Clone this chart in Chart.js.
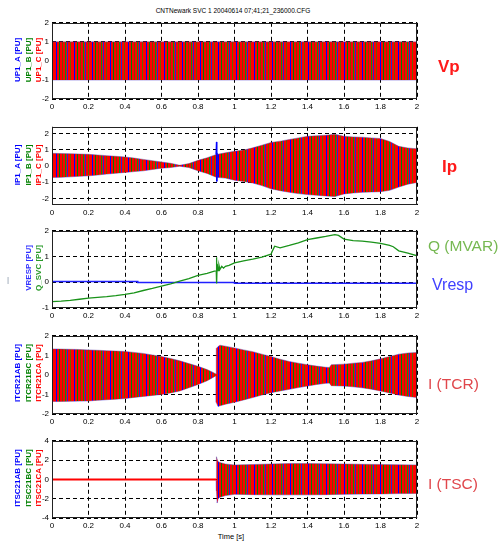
<!DOCTYPE html>
<html><head><meta charset="utf-8">
<script src="https://cdn.jsdelivr.net/npm/chart.js@4.4.0/dist/chart.umd.min.js"></script>
<style>
body{margin:0;background:#fff;width:499px;height:541px;overflow:hidden;position:relative;font-family:Arial,"Liberation Sans",sans-serif}
canvas{position:absolute;left:0}
.t{position:absolute;white-space:nowrap;line-height:1}
.rot{position:absolute;white-space:nowrap;line-height:1;font-size:8px;font-weight:bold;transform:translate(-50%,-50%) rotate(-90deg)}
</style></head><body>
<div class="t" style="left:233px;top:7.5px;font-size:6.5px;transform:translateX(-50%)">CNTNewark SVC 1 20040614 07;41;21_236000.CFG</div>

<canvas id="c1" width="499" height="98" style="top:15px;width:499px;height:98px"></canvas>
<canvas id="c2" width="499" height="100" style="top:119px;width:499px;height:100px"></canvas>
<canvas id="c3" width="499" height="99" style="top:223px;width:499px;height:99px"></canvas>
<canvas id="c4" width="499" height="100" style="top:328px;width:499px;height:100px"></canvas>
<canvas id="c5" width="499" height="99" style="top:433px;width:499px;height:99px"></canvas>

<div class="rot" style="left:17.5px;top:60px;color:#0000ff">UP1_A [PU]</div>
<div class="rot" style="left:28.5px;top:60px;color:#008000">UP1_B [PU]</div>
<div class="rot" style="left:39px;top:60px;color:#ff0000">UP1_C [PU]</div>

<div class="rot" style="left:17.5px;top:165px;color:#0000ff">IP1_A [PU]</div>
<div class="rot" style="left:28.5px;top:165px;color:#008000">IP1_B [PU]</div>
<div class="rot" style="left:39px;top:165px;color:#ff0000">IP1_C [PU]</div>

<div class="t" style="left:7px;top:276px;font-size:8px;color:#7a8aa0">|</div>
<div class="rot" style="left:29px;top:268px;color:#3030ff">VRESP [PU]</div>
<div class="rot" style="left:39px;top:268px;color:#2a9a2a">Q_SVC [PU]</div>

<div class="rot" style="left:17.5px;top:373px;color:#0000ff">ITCR21AB [PU]</div>
<div class="rot" style="left:28.5px;top:373px;color:#008000">ITCR21BC [PU]</div>
<div class="rot" style="left:39px;top:373px;color:#ff0000">ITCR21CA [PU]</div>

<div class="rot" style="left:17.5px;top:478px;color:#0000ff">ITSC21AB [PU]</div>
<div class="rot" style="left:28.5px;top:478px;color:#008000">ITSC21BC [PU]</div>
<div class="rot" style="left:39px;top:478px;color:#ff0000">ITSC21CA [PU]</div>

<div class="t" style="left:438px;top:58px;font-size:17px;font-weight:bold;color:#ff1a1a">Vp</div>
<div class="t" style="left:442px;top:158px;font-size:17px;font-weight:bold;color:#ff1a1a">Ip</div>
<div class="t" style="left:428px;top:238px;font-size:15.5px;color:#76b852">Q (MVAR)</div>
<div class="t" style="left:432px;top:277px;font-size:16px;color:#4040ff">Vresp</div>
<div class="t" style="left:428px;top:376px;font-size:15.5px;color:#e0474c">I (TCR)</div>
<div class="t" style="left:428px;top:476px;font-size:15.5px;color:#e0474c">I (TSC)</div>

<div class="t" style="left:231px;top:533px;font-size:7.5px;transform:translateX(-50%)">Time [s]</div>

<script>
// ---------- DATA ----------
const xTicks = [0, 0.2, 0.4, 0.6, 0.8, 1, 1.2, 1.4, 1.6, 1.8, 2];
const xTickLabels = ['0', '0.2', '0.4', '0.6', '0.8', '1', '1.2', '1.4', '1.6', '1.8', '2'];
const yTicks2 = [-2, -1, 0, 1, 2];
const yTickLabels2 = ['-2', '-1', '0', '1', '2'];
const yTicksQ = [-1, 0, 1, 2];
const yTickLabelsQ = ['-1', '0', '1', '2'];
const yTicks4 = [-4, -2, 0, 2, 4];
const yTickLabels4 = ['-4', '-2', '0', '2', '4'];

// Vp envelope (3 phases, PU)
const vpT  = [0, 0.5, 1.0, 1.5, 2.0];
const vpHi = [1.0, 1.0, 1.0, 1.0, 1.0];
const vpLo = [-1.0, -1.0, -1.0, -1.0, -1.0];

// Ip envelope
const ipT  = [0,0.05,0.1,0.15,0.2,0.25,0.3,0.35,0.4,0.45,0.5,0.55,0.6,0.65,0.7,0.75,0.8,0.85,0.9,0.95,1.0,1.05,1.1,1.15,1.2,1.25,1.3,1.35,1.4,1.45,1.5,1.55,1.6,1.65,1.7,1.75,1.8,1.85,1.9,1.95,2.0];
const ipHi = [0.77,0.76,0.75,0.73,0.71,0.67,0.63,0.59,0.55,0.48,0.40,0.32,0.24,0.16,0.04,0.14,0.34,0.50,0.70,0.80,0.90,0.97,1.11,1.27,1.44,1.52,1.62,1.72,1.82,1.85,1.88,1.94,1.82,1.78,1.76,1.72,1.68,1.50,1.20,1.10,1.05];
const ipLo = [-0.71,-0.70,-0.67,-0.64,-0.61,-0.56,-0.50,-0.45,-0.40,-0.35,-0.30,-0.22,-0.14,-0.10,-0.02,-0.10,-0.30,-0.46,-0.70,-0.75,-0.88,-0.95,-1.05,-1.21,-1.41,-1.52,-1.62,-1.70,-1.76,-1.80,-1.84,-1.88,-1.72,-1.66,-1.62,-1.60,-1.58,-1.50,-1.30,-1.12,-1.02];
const ipSpikeT = [0.898, 0.901, 0.903, 0.905];
const ipSpikeV = [0.70, 1.47, -0.95, 0.80];

// Q_SVC and VRESP
const qT = [0,0.05,0.1,0.15,0.2,0.25,0.3,0.35,0.4,0.45,0.5,0.55,0.6,0.65,0.7,0.75,0.8,0.85,0.89,0.9,0.901,0.903,0.905,0.91,0.915,0.92,0.93,0.94,0.95,0.97,1.0,1.05,1.1,1.15,1.2,1.21,1.22,1.25,1.3,1.35,1.4,1.45,1.5,1.55,1.57,1.6,1.65,1.7,1.75,1.8,1.85,1.87,1.9,1.95,2.0];
const qV = [-0.75,-0.73,-0.70,-0.66,-0.62,-0.59,-0.56,-0.52,-0.47,-0.41,-0.32,-0.24,-0.15,-0.06,0.04,0.14,0.27,0.35,0.43,0.45,0.97,-0.05,0.72,0.45,0.66,0.50,0.62,0.55,0.62,0.66,0.75,0.83,0.90,0.98,1.09,1.25,1.40,1.34,1.43,1.53,1.66,1.72,1.78,1.85,1.82,1.68,1.62,1.60,1.56,1.51,1.43,1.38,1.22,1.13,1.03];
const vrT = [0, 0.47, 0.47, 1.0, 1.0, 2.0];
const vrV = [0.025, 0.025, -0.01, -0.01, -0.04, -0.04];

// TCR current envelope
const tcrT  = [0,0.05,0.1,0.15,0.2,0.25,0.3,0.35,0.4,0.45,0.5,0.55,0.6,0.65,0.7,0.75,0.8,0.85,0.88,0.899,0.9,0.91,0.92,0.95,1.0,1.05,1.1,1.15,1.2,1.25,1.3,1.35,1.4,1.45,1.5,1.52,1.53,1.6,1.65,1.7,1.75,1.8,1.85,1.9,1.95,2.0];
const tcrHi = [1.33,1.32,1.31,1.30,1.28,1.26,1.24,1.22,1.20,1.15,1.10,1.02,0.94,0.84,0.72,0.58,0.44,0.27,0.14,0.04,1.35,1.45,1.52,1.47,1.38,1.28,1.19,1.06,0.94,0.80,0.69,0.60,0.52,0.45,0.39,0.38,0.52,0.55,0.60,0.64,0.72,0.82,0.94,1.06,1.12,1.15];
const tcrLo = [-1.36,-1.36,-1.35,-1.34,-1.33,-1.30,-1.27,-1.24,-1.21,-1.15,-1.10,-1.05,-1.00,-0.92,-0.82,-0.66,-0.49,-0.30,-0.14,-0.04,-1.40,-1.62,-1.58,-1.50,-1.40,-1.28,-1.16,-1.03,-0.91,-0.82,-0.74,-0.65,-0.57,-0.49,-0.43,-0.42,-0.55,-0.57,-0.61,-0.66,-0.73,-0.82,-0.92,-1.03,-1.10,-1.16];

// TSC current envelope
const tscIdleT = [0, 0.9];
const tscIdleV = [0, 0];
const tscT  = [0.9,0.901,0.905,0.91,0.92,0.95,1.0,1.1,1.2,1.3,1.4,1.5,1.6,1.7,1.8,1.9,2.0];
const tscHi = [0.10,2.35,2.10,1.85,1.75,1.60,1.50,1.55,1.60,1.65,1.65,1.62,1.60,1.57,1.55,1.52,1.50];
const tscLo = [-0.10,-1.20,-2.45,-2.00,-1.85,-1.68,-1.55,-1.58,-1.60,-1.60,-1.60,-1.58,-1.55,-1.52,-1.50,-1.47,-1.45];

// ---------- RENDERING ----------
const FONT = 'Arial, "Liberation Sans", sans-serif';
function stripes(colors) {
  const c = document.createElement('canvas');
  c.width = colors.length; c.height = 1;
  const g = c.getContext('2d');
  colors.forEach((col, i) => { g.fillStyle = col; g.fillRect(i, 0, 1, 1); });
  return g.createPattern(c, 'repeat');
}
const phaseFill = stripes(['#ff0000','#ff0000','#0000ff','#ff0000','#ff0000','#008000','#ff0000','#ff0000','#7a4a00','#ff0000','#ff0000','#109010','#ff0000','#2a2ad0','#ff0000','#ff0000','#6a6000','#ff0000']);
const pts = (T, V) => T.map((t, i) => ({ x: t, y: V[i] }));

function band(T, hi, lo) {
  return [
    { data: pts(T, hi), borderColor: 'rgba(90,60,160,0.55)', borderWidth: 0.8, backgroundColor: phaseFill, fill: '+1' },
    { data: pts(T, lo), borderColor: 'rgba(60,40,200,0.6)', borderWidth: 0.8, fill: false }
  ];
}

const framePlugin = {
  id: 'frame',
  afterDatasetsDraw(chart) {
    const a = chart.chartArea, ctx = chart.ctx;
    ctx.save();
    ctx.strokeStyle = '#222';
    ctx.lineWidth = 1;
    ctx.strokeRect(Math.round(a.left) + 0.5, Math.round(a.top) + 0.5, Math.round(a.right - a.left) - 1, Math.round(a.bottom - a.top) - 1);
    ctx.restore();
  }
};

function panel(id, yMin, yMax, yTicks, yLabels, datasets) {
  return new Chart(document.getElementById(id), {
    type: 'line',
    data: { datasets },
    options: {
      responsive: false, animation: false, devicePixelRatio: 1, events: [],
      parsing: false, normalized: true,
      layout: { padding: { left: 0, right: 82, top: 6, bottom: 0 } },
      plugins: { legend: { display: false }, tooltip: { enabled: false } },
      elements: { point: { radius: 0 }, line: { tension: 0 } },
      scales: {
        x: {
          type: 'linear', min: 0, max: 2,
          afterBuildTicks: s => { s.ticks = xTicks.map(v => ({ value: v })); },
          afterFit: s => { s.height = 14; },
          ticks: { callback: (v, i) => xTickLabels[i], font: { size: 8, family: FONT }, color: '#000', padding: 3, maxRotation: 0, autoSkip: false },
          grid: { color: '#000', lineWidth: 1, drawTicks: false },
          border: { display: false, dash: [4, 3] }
        },
        y: {
          type: 'linear', min: yMin, max: yMax,
          afterBuildTicks: s => { s.ticks = yTicks.map(v => ({ value: v })); },
          afterFit: s => { s.width = 52; },
          ticks: { callback: (v, i) => yLabels[i], font: { size: 8, family: FONT }, color: '#000', padding: 3, autoSkip: false },
          grid: { color: '#000', lineWidth: 1, drawTicks: false },
          border: { display: false, dash: [4, 3] }
        }
      }
    },
    plugins: [framePlugin]
  });
}

panel('c1', -2, 2, yTicks2, yTickLabels2, band(vpT, vpHi, vpLo));

panel('c2', -2.4, 2.4, yTicks2, yTickLabels2, [
  { data: pts(ipSpikeT, ipSpikeV), borderColor: '#0000ff', borderWidth: 1, fill: false },
  ...band(ipT, ipHi, ipLo)
]);

panel('c3', -1, 2, yTicksQ, yTickLabelsQ, [
  { data: pts(qT, qV), borderColor: '#1a931a', borderWidth: 1.3, fill: false },
  { data: pts(vrT, vrV), borderColor: '#2020ff', borderWidth: 1.5, fill: false }
]);

panel('c4', -2, 2, yTicks2, yTickLabels2, band(tcrT, tcrHi, tcrLo));

panel('c5', -4, 4, yTicks4, yTickLabels4, [
  { data: pts(tscIdleT, tscIdleV), borderColor: '#ff0000', borderWidth: 2, fill: false },
  ...band(tscT, tscHi, tscLo)
]);
</script>
</body></html>
